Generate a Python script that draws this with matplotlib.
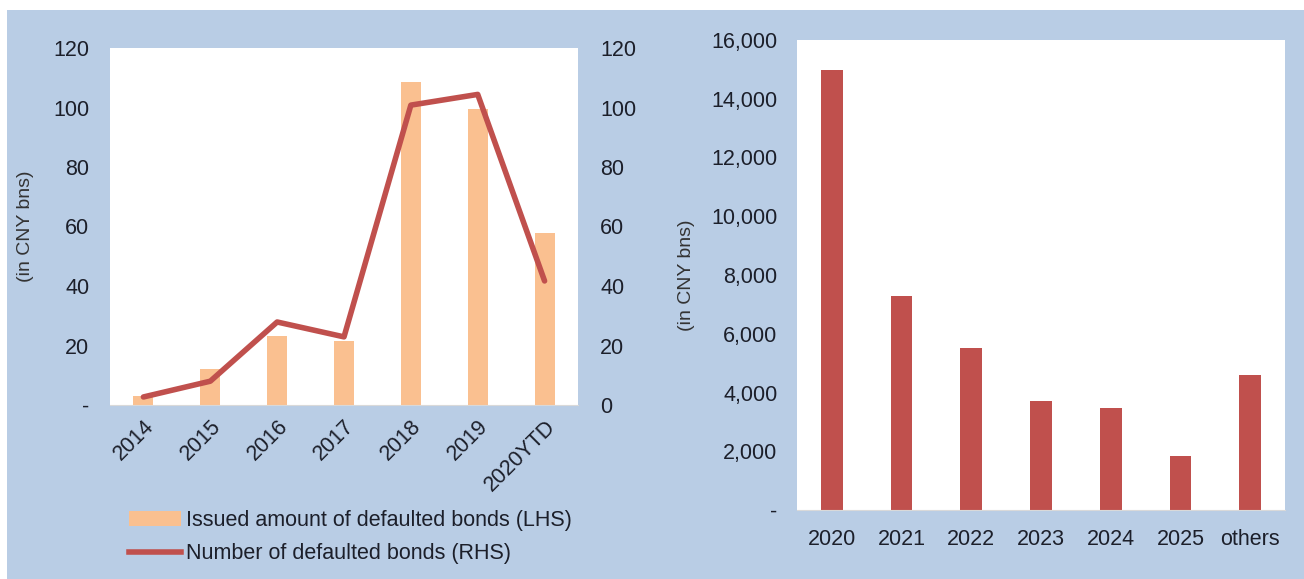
import matplotlib.pyplot as plt
from matplotlib.patches import Rectangle
from matplotlib.lines import Line2D
from matplotlib.patches import Patch

plt.rcParams['font.family'] = ['Liberation Sans', 'DejaVu Sans']

# linke grafik
jahre = ["2014", "2015", "2016", "2017", "2018", "2019", "2020YTD"]
betrag = [3, 12, 23.2, 21.5, 108.7, 99.6, 57.8]
anzahl = [2.7, 8, 27.9, 22.9, 100.8, 104.4, 41.7]
links_ticks = [0, 20, 40, 60, 80, 100, 120]
links_labels = ["-", "20", "40", "60", "80", "100", "120"]

# rechte grafik
faellig = ["2020", "2021", "2022", "2023", "2024", "2025", "others"]
volumen = [14980, 7270, 5500, 3700, 3480, 1830, 4580]
rechts_ticks = [0, 2000, 4000, 6000, 8000, 10000, 12000, 14000, 16000]
rechts_labels = ["-", "2,000", "4,000", "6,000", "8,000", "10,000", "12,000", "14,000", "16,000"]

blau = "#B9CDE5"
orange = "#FAC090"
rot = "#C0504D"
textfarbe = "#1c1f2a"
groesse = 15.5

fig = plt.figure(figsize=(13.04, 5.79), dpi=100, facecolor="white")
fig.patches.append(Rectangle((7 / 1304, 0), 1, 1 - 10 / 579, transform=fig.transFigure,
                             facecolor=blau, edgecolor="none", zorder=-10))

ax1 = fig.add_axes([110 / 1304, 1 - 405 / 579, 468 / 1304, 357 / 579])
x = list(range(len(jahre)))
ax1.bar(x, betrag, width=0.3, color=orange, zorder=2)
ax1.set_ylim(0, 120)
ax1.set_xlim(-0.5, len(jahre) - 0.5)
ax1.set_yticks(links_ticks)
ax1.set_yticklabels(links_labels)
ax1.set_xticks(x)
ax1.set_xticklabels(jahre, rotation=45, ha="right", rotation_mode="anchor")
ax1.set_ylabel("(in CNY bns)", fontsize=14, color="#333333", labelpad=14)
for s in ["top", "left", "right"]:
    ax1.spines[s].set_visible(False)
ax1.spines["bottom"].set_color("#d9d9d9")
ax1.tick_params(length=0, labelsize=groesse, colors=textfarbe, pad=15)
ax1.tick_params(axis="x", pad=8)

ax2 = ax1.twinx()
ax2.plot(x, anzahl, color=rot, linewidth=4, solid_capstyle="round", zorder=3)
ax2.set_ylim(0, 120)
ax2.set_yticks(links_ticks)
for s in ["top", "left", "right", "bottom"]:
    ax2.spines[s].set_visible(False)
ax2.tick_params(length=0, labelsize=groesse, colors=textfarbe, pad=16)

handles = [Patch(facecolor=orange, edgecolor="none"),
           Line2D([0], [0], color=rot, linewidth=4)]
fig.legend(handles, ["Issued amount of defaulted bonds (LHS)", "Number of defaulted bonds (RHS)"],
           loc="upper left", bbox_to_anchor=(110 / 1304, 1 - 491 / 579), frameon=False,
           fontsize=groesse, handlelength=2.4, handletextpad=0.25, labelspacing=0.55,
           labelcolor=textfarbe)

ax3 = fig.add_axes([797 / 1304, 1 - 510 / 579, 488 / 1304, 470 / 579])
x2 = list(range(len(faellig)))
ax3.bar(x2, volumen, width=0.31, color=rot, zorder=2)
ax3.set_ylim(0, 16000)
ax3.set_xlim(-0.5, len(faellig) - 0.5)
ax3.set_yticks(rechts_ticks)
ax3.set_yticklabels(rechts_labels)
ax3.set_xticks(x2)
ax3.set_xticklabels(faellig)
ax3.set_ylabel("(in CNY bns)", fontsize=14, color="#333333", labelpad=12)
for s in ["top", "left", "right"]:
    ax3.spines[s].set_visible(False)
ax3.spines["bottom"].set_color("#d9d9d9")
ax3.tick_params(length=0, labelsize=groesse, colors=textfarbe, pad=14)

plt.savefig("out.png", dpi=100, facecolor=fig.get_facecolor())
